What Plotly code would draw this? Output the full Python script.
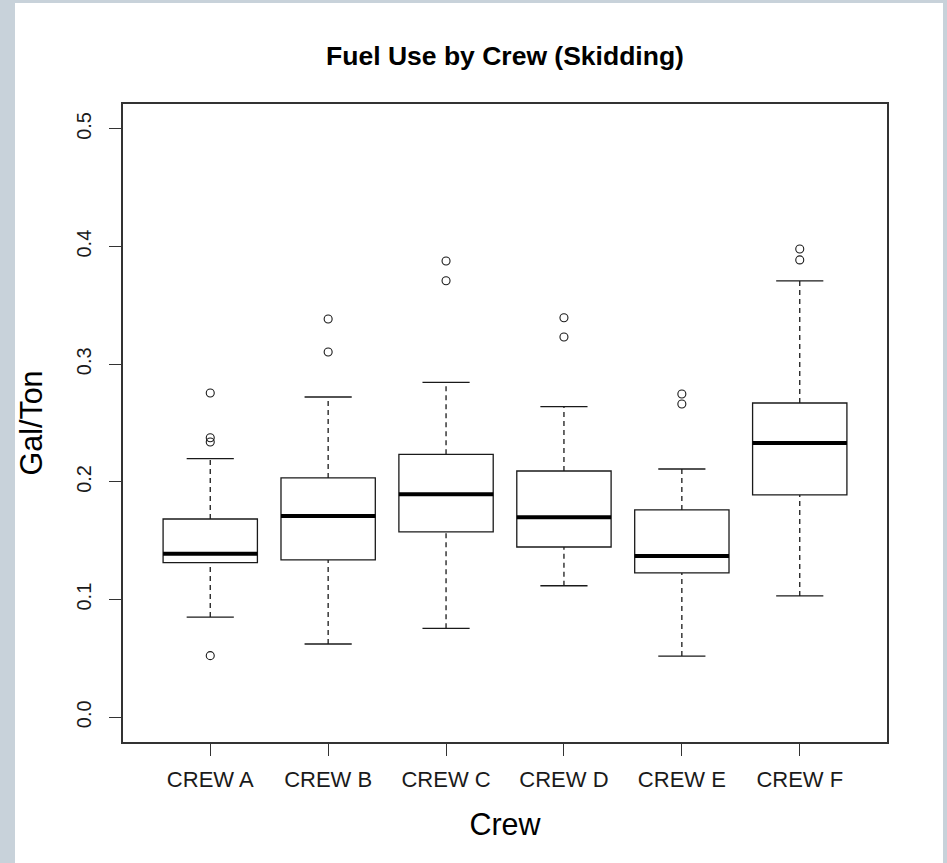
import plotly.graph_objects as go

# ---- data ----
crews = ["CREW A", "CREW B", "CREW C", "CREW D", "CREW E", "CREW F"]
lower_whisker = [0.0852, 0.0623, 0.0756, 0.1118, 0.0520, 0.1031]
q1 = [0.1314, 0.1337, 0.1575, 0.1447, 0.1227, 0.1890]
median = [0.1390, 0.1711, 0.1895, 0.1700, 0.1370, 0.2331]
q3 = [0.1685, 0.2034, 0.2235, 0.2093, 0.1762, 0.2671]
upper_whisker = [0.2198, 0.2722, 0.2847, 0.2640, 0.2110, 0.3708]
outliers = [
    [0.2756, 0.2376, 0.2340, 0.0524],
    [0.3385, 0.3105],
    [0.3878, 0.3710],
    [0.3396, 0.3232],
    [0.2748, 0.2663],
    [0.3980, 0.3887],
]
y_ticks = [0.0, 0.1, 0.2, 0.3, 0.4, 0.5]
y_tick_text = ["0.0", "0.1", "0.2", "0.3", "0.4", "0.5"]

FONT = "Liberation Sans, Arial, sans-serif"
LINE = "#1a1a1a"
BOXW = 0.8
CAPW = 0.4

pos = list(range(1, len(crews) + 1))

fig = go.Figure()

# box bodies
fig.add_trace(go.Box(
    x=pos, q1=q1, median=median, q3=q3,
    lowerfence=q1, upperfence=q3,
    width=BOXW, fillcolor="white",
    line=dict(color=LINE, width=1.3),
    boxpoints=False, showlegend=False, hoverinfo="skip",
))

# dashed whiskers
wx, wy = [], []
for p, a, b, c, d in zip(pos, lower_whisker, q1, q3, upper_whisker):
    wx += [p, p, None, p, p, None]
    wy += [a, b, None, c, d, None]
fig.add_trace(go.Scatter(x=wx, y=wy, mode="lines",
                         line=dict(color=LINE, width=1.3, dash="5px,4px"),
                         showlegend=False, hoverinfo="skip"))

# whisker caps
cx, cy = [], []
for p, a, d in zip(pos, lower_whisker, upper_whisker):
    cx += [p - CAPW / 2, p + CAPW / 2, None, p - CAPW / 2, p + CAPW / 2, None]
    cy += [a, a, None, d, d, None]
fig.add_trace(go.Scatter(x=cx, y=cy, mode="lines",
                         line=dict(color=LINE, width=1.3),
                         showlegend=False, hoverinfo="skip"))

# thick medians
mx, my = [], []
for p, m in zip(pos, median):
    mx += [p - BOXW / 2, p + BOXW / 2, None]
    my += [m, m, None]
fig.add_trace(go.Scatter(x=mx, y=my, mode="lines",
                         line=dict(color="black", width=4),
                         showlegend=False, hoverinfo="skip"))

# outliers
ox, oy = [], []
for p, vals in zip(pos, outliers):
    for v in vals:
        ox.append(p)
        oy.append(v)
fig.add_trace(go.Scatter(x=ox, y=oy, mode="markers",
                         marker=dict(symbol="circle-open", size=8,
                                     color=LINE, line=dict(width=1.1)),
                         showlegend=False, hoverinfo="skip"))

W, H = 947, 863
ml, mr, mt, mb = 123, 60, 104, 121
pw, ph = W - ml - mr, H - mt - mb

fig.update_layout(
    width=W, height=H,
    margin=dict(l=ml, r=mr, t=mt, b=mb, pad=0),
    paper_bgcolor="#c8d2da",
    plot_bgcolor="white",
    font=dict(family=FONT, color="black"),
    title=dict(text="<b>Fuel Use by Crew (Skidding)</b>",
               x=(ml + pw / 2) / W, xanchor="center",
               y=1 - 56 / H, yanchor="middle",
               font=dict(size=26.5, family=FONT, color="black")),
    shapes=[dict(type="rect", xref="paper", yref="paper",
                 x0=(15 - ml) / pw, x1=(943 - ml) / pw,
                 y0=-0.3, y1=(H - mb - 3) / ph,
                 fillcolor="white", line=dict(width=0), layer="below")],
    xaxis=dict(
        range=[0.26, 6.74], tickmode="array", tickvals=pos, ticktext=crews,
        showgrid=False, zeroline=False,
        showline=True, linecolor="#333", linewidth=1.5, mirror=True,
        ticks="outside", ticklen=12, tickwidth=1.3, tickcolor="#333",
        tickfont=dict(size=22, family=FONT, color="#1a1a1a"),
        ticklabelstandoff=5,
        title=dict(text="Crew", font=dict(size=30.5, family=FONT, color="black"),
                   standoff=22),
    ),
    yaxis=dict(
        range=[-0.021, 0.5212], tickmode="array", tickvals=y_ticks,
        ticktext=y_tick_text, tickangle=-90,
        showgrid=False, zeroline=False,
        showline=True, linecolor="#333", linewidth=1.5, mirror=True,
        ticks="outside", ticklen=12, tickwidth=1.3, tickcolor="#333",
        tickfont=dict(size=20, family=FONT, color="#1a1a1a"),
        ticklabelstandoff=10,
        title=dict(text="Gal/Ton", font=dict(size=30.5, family=FONT, color="black"),
                   standoff=22),
    ),
)

fig.write_html("out.html")
